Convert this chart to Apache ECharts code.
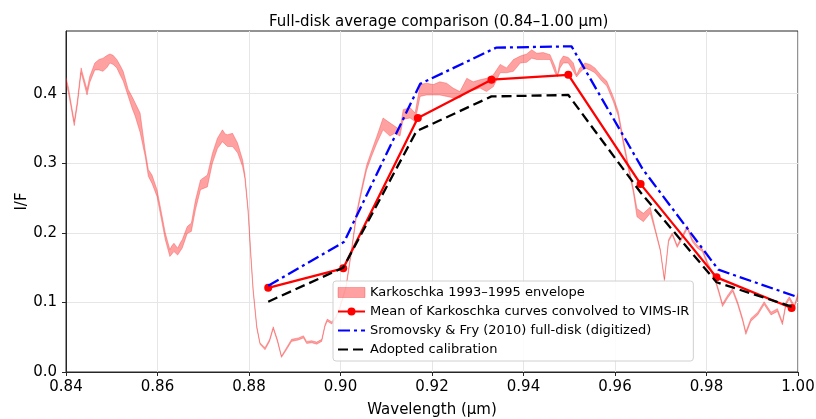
<!DOCTYPE html>
<html>
<head>
<meta charset="utf-8">
<script src="https://cdn.jsdelivr.net/npm/echarts@6/dist/echarts.min.js"></script>
<style>
  html, body { margin: 0; padding: 0; background: #fff; }
  #chart { width: 816px; height: 419px; }
</style>
</head>
<body>
<div id="chart"></div>
<script>
// Karkoschka envelope
const envWl = [
  0.8400, 0.8405, 0.8410, 0.8418, 0.8425, 0.8433, 0.8438, 0.8446, 0.8452, 0.8463,
  0.8472, 0.8481, 0.8490, 0.8496, 0.8503, 0.8511, 0.8518, 0.8525, 0.8536, 0.8545,
  0.8551, 0.8562, 0.8573, 0.8580, 0.8588, 0.8599, 0.8606, 0.8617, 0.8627, 0.8632,
  0.8636, 0.8644, 0.8650, 0.8654, 0.8665, 0.8674, 0.8683, 0.8694, 0.8709, 0.8720,
  0.8731, 0.8742, 0.8748, 0.8753, 0.8764, 0.8775, 0.8786, 0.8791, 0.8798, 0.8804,
  0.8809, 0.8817, 0.8824, 0.8835, 0.8845, 0.8853, 0.8862, 0.8871, 0.8882, 0.8893,
  0.8908, 0.8919, 0.8926, 0.8937, 0.8948, 0.8959, 0.8966, 0.8971, 0.8981, 0.8990,
  0.8999, 0.9012, 0.9024, 0.9035, 0.9046, 0.9057, 0.9068, 0.9079, 0.9093, 0.9108,
  0.9119, 0.9130, 0.9137, 0.9152, 0.9163, 0.9174, 0.9188, 0.9203, 0.9217, 0.9232,
  0.9246, 0.9261, 0.9276, 0.9290, 0.9305, 0.9319, 0.9334, 0.9349, 0.9363, 0.9378,
  0.9393, 0.9407, 0.9418, 0.9429, 0.9443, 0.9458, 0.9469, 0.9474, 0.9480, 0.9487,
  0.9498, 0.9509, 0.9516, 0.9523, 0.9534, 0.9545, 0.9556, 0.9571, 0.9582, 0.9596,
  0.9607, 0.9618, 0.9629, 0.9640, 0.9648, 0.9662, 0.9677, 0.9688, 0.9699, 0.9708,
  0.9717, 0.9725, 0.9736, 0.9747, 0.9758, 0.9769, 0.9780, 0.9791, 0.9802, 0.9817,
  0.9828, 0.9835, 0.9846, 0.9857, 0.9868, 0.9879, 0.9886, 0.9897, 0.9912, 0.9926,
  0.9941, 0.9955, 0.9966, 0.9974, 0.9981, 0.9992, 1.0000
];
const envUpper = [
  0.423, 0.410, 0.391, 0.360, 0.391, 0.437, 0.425, 0.406, 0.425, 0.444,
  0.449, 0.451, 0.455, 0.457, 0.455, 0.449, 0.441, 0.432, 0.406, 0.395,
  0.387, 0.372, 0.319, 0.291, 0.283, 0.262, 0.238, 0.200, 0.176, 0.182,
  0.185, 0.178, 0.186, 0.190, 0.209, 0.214, 0.247, 0.276, 0.283, 0.314,
  0.336, 0.348, 0.342, 0.341, 0.343, 0.329, 0.305, 0.284, 0.235, 0.170,
  0.120, 0.066, 0.042, 0.035, 0.047, 0.065, 0.047, 0.023, 0.035, 0.047,
  0.049, 0.052, 0.044, 0.045, 0.043, 0.047, 0.068, 0.076, 0.072, 0.080,
  0.095, 0.124, 0.176, 0.229, 0.264, 0.297, 0.318, 0.338, 0.365, 0.358,
  0.353, 0.348, 0.377, 0.380, 0.372, 0.413, 0.415, 0.413, 0.417, 0.415,
  0.408, 0.403, 0.422, 0.417, 0.420, 0.422, 0.427, 0.442, 0.437, 0.449,
  0.454, 0.457, 0.463, 0.458, 0.459, 0.456, 0.439, 0.427, 0.447, 0.454,
  0.452, 0.444, 0.427, 0.437, 0.444, 0.442, 0.437, 0.425, 0.418, 0.396,
  0.375, 0.335, 0.298, 0.264, 0.235, 0.228, 0.237, 0.206, 0.177, 0.134,
  0.190, 0.200, 0.182, 0.196, 0.210, 0.191, 0.182, 0.177, 0.158, 0.139,
  0.115, 0.098, 0.110, 0.120, 0.101, 0.077, 0.058, 0.077, 0.086, 0.101,
  0.086, 0.091, 0.072, 0.101, 0.108, 0.096, 0.113
];
const envLower = [
  0.415, 0.402, 0.384, 0.354, 0.384, 0.430, 0.418, 0.398, 0.416, 0.434,
  0.434, 0.432, 0.438, 0.444, 0.442, 0.437, 0.427, 0.418, 0.396, 0.378,
  0.368, 0.344, 0.310, 0.281, 0.271, 0.252, 0.228, 0.190, 0.166, 0.170,
  0.173, 0.168, 0.174, 0.178, 0.199, 0.202, 0.233, 0.262, 0.266, 0.300,
  0.321, 0.331, 0.327, 0.324, 0.324, 0.315, 0.295, 0.278, 0.230, 0.165,
  0.116, 0.063, 0.040, 0.032, 0.044, 0.062, 0.044, 0.021, 0.032, 0.044,
  0.046, 0.049, 0.041, 0.042, 0.040, 0.044, 0.065, 0.073, 0.069, 0.077,
  0.092, 0.120, 0.172, 0.224, 0.258, 0.290, 0.310, 0.328, 0.348, 0.339,
  0.343, 0.339, 0.363, 0.365, 0.360, 0.396, 0.398, 0.398, 0.398, 0.396,
  0.394, 0.394, 0.403, 0.405, 0.408, 0.403, 0.410, 0.430, 0.430, 0.432,
  0.444, 0.445, 0.451, 0.449, 0.449, 0.449, 0.430, 0.424, 0.437, 0.444,
  0.444, 0.432, 0.424, 0.430, 0.437, 0.434, 0.430, 0.418, 0.411, 0.389,
  0.368, 0.328, 0.292, 0.258, 0.223, 0.216, 0.228, 0.202, 0.174, 0.131,
  0.187, 0.197, 0.179, 0.192, 0.206, 0.187, 0.178, 0.173, 0.154, 0.135,
  0.111, 0.094, 0.106, 0.116, 0.097, 0.073, 0.054, 0.073, 0.082, 0.097,
  0.082, 0.087, 0.068, 0.097, 0.104, 0.092, 0.109
];

// mean of Karkoschka convolved to VIMS-IR
const meanWl = [0.8842, 0.9006, 0.9169, 0.9330, 0.9498, 0.9656, 0.9822, 0.9986];
const meanIF = [0.121, 0.149, 0.365, 0.420, 0.427, 0.270, 0.136, 0.092];

const sfWl = [0.8842, 0.9008, 0.9174, 0.9340, 0.9505, 0.9660, 0.9826, 0.9998];
const sfIF = [0.124, 0.187, 0.414, 0.466, 0.468, 0.292, 0.147, 0.108];

// adopted calibration
const adoptWl = [0.8842, 0.9006, 0.9166, 0.9330, 0.9498, 0.9656, 0.9822, 0.9986];
const adoptIF = [0.101, 0.150, 0.346, 0.396, 0.398, 0.258, 0.129, 0.094];

const yTicks = [0, 0.1, 0.2, 0.3, 0.4];

const ENV_NAME = 'Karkoschka 1993–1995 envelope';
const MEAN_NAME = 'Mean of Karkoschka curves convolved to VIMS-IR';
const SF_NAME = 'Sromovsky & Fry (2010) full-disk (digitized)';
const ADOPT_NAME = 'Adopted calibration';

const pairs = (xs, ys) => xs.map((x, i) => [x, ys[i]]);

const font = 'DejaVu Sans';
const chart = echarts.init(document.getElementById('chart'), null, { renderer: 'canvas' });

// envelope drawn as one polygon: upper edge forward, lower edge back
const renderEnvelope = (params, api) => {
  const pts = [];
  for (let i = 0; i < envWl.length; i++) pts.push(api.coord([envWl[i], envUpper[i]]));
  for (let i = envWl.length - 1; i >= 0; i--) pts.push(api.coord([envWl[i], envLower[i]]));
  const cs = params.coordSys;
  return {
    type: 'polygon',
    shape: { points: pts },
    clipPath: { type: 'rect', shape: { x: cs.x, y: cs.y, width: cs.width, height: cs.height } },
    style: {
      fill: 'rgba(255,0,0,0.37)',
      stroke: 'rgba(240,40,40,0.32)',
      lineWidth: 1,
      lineJoin: 'round',
    },
  };
};

chart.setOption({
  animation: false,
  backgroundColor: '#ffffff',
  textStyle: { fontFamily: font },
  title: {
    text: 'Full-disk average comparison (0.84–1.00 µm)',
    left: 264,
    top: 10,
    textStyle: { fontFamily: font, fontSize: 15, fontWeight: 'normal', color: '#000' },
  },
  grid: {
    left: 66,
    right: 18,
    top: 31,
    bottom: 47,
    outerBoundsMode: 'none',
    containLabel: false,
    show: true,
    borderColor: '#262626',
    borderWidth: 1,
    backgroundColor: 'transparent',
  },
  legend: {
    orient: 'vertical',
    left: 333,
    top: 281,
    padding: [4, 4, 4, 4],
    itemWidth: 27,
    itemHeight: 10,
    itemGap: 4,
    backgroundColor: 'rgba(255,255,255,0.85)',
    borderColor: '#d0d0d0',
    borderWidth: 1,
    borderRadius: 3,
    textStyle: { fontFamily: font, fontSize: 13, color: '#000', lineHeight: 15 },
    data: [
      {
        name: ENV_NAME,
        icon: 'rect',
        itemStyle: { color: 'rgba(255,0,0,0.37)', borderColor: 'rgba(240,40,40,0.32)', borderWidth: 1 },
      },
      MEAN_NAME,
      { name: SF_NAME, itemStyle: { opacity: 0 } },
      { name: ADOPT_NAME, itemStyle: { opacity: 0 } },
    ],
  },
  xAxis: {
    type: 'value',
    min: 0.84,
    max: 1.0,
    interval: 0.02,
    name: 'Wavelength (µm)',
    nameLocation: 'middle',
    nameGap: 31,
    nameMoveOverlap: false,
    nameTextStyle: { fontFamily: font, fontSize: 15, color: '#000' },
    axisLine: { show: true, lineStyle: { color: '#262626', width: 1 } },
    axisTick: { show: true, inside: false, length: 4, lineStyle: { color: '#262626' } },
    axisLabel: {
      fontFamily: font,
      fontSize: 15,
      color: '#000',
      margin: 8,
      formatter: (v) => v.toFixed(2),
    },
    splitLine: { show: true, lineStyle: { color: '#e6e6e6', width: 1 } },
  },
  yAxis: {
    type: 'value',
    min: 0,
    max: 0.49,
    interval: 0.1,
    name: 'I/F',
    nameLocation: 'middle',
    nameRotate: 90,
    nameGap: 36,
    nameMoveOverlap: false,
    nameTextStyle: { fontFamily: font, fontSize: 15, color: '#000' },
    axisLine: { show: true, lineStyle: { color: '#262626', width: 1 } },
    axisTick: { show: true, inside: false, length: 4, customValues: yTicks, lineStyle: { color: '#262626' } },
    axisLabel: {
      fontFamily: font,
      fontSize: 15,
      color: '#000',
      margin: 9,
      customValues: yTicks,
      formatter: (v) => v.toFixed(1),
    },
    splitLine: { show: true, lineStyle: { color: '#e6e6e6', width: 1 } },
  },
  series: [
    {
      name: ENV_NAME,
      type: 'custom',
      renderItem: renderEnvelope,
      data: [[envWl[0], envUpper[0]]],
      itemStyle: { color: 'rgba(255,0,0,0.37)' },
      silent: true,
      z: 1,
    },
    {
      name: MEAN_NAME,
      type: 'line',
      symbol: 'circle',
      symbolSize: 8,
      data: pairs(meanWl, meanIF),
      lineStyle: { color: '#ff0000', width: 2.3 },
      itemStyle: { color: '#ff0000' },
      z: 3,
    },
    {
      name: SF_NAME,
      type: 'line',
      symbol: 'none',
      data: pairs(sfWl, sfIF),
      lineStyle: { color: '#0000ff', width: 2.3, type: [12, 4, 3, 4] },
      itemStyle: { color: '#0000ff' },
      z: 4,
    },
    {
      name: ADOPT_NAME,
      type: 'line',
      symbol: 'none',
      data: pairs(adoptWl, adoptIF),
      lineStyle: { color: '#000000', width: 2.3, type: [10, 5] },
      itemStyle: { color: '#000000' },
      z: 5,
    },
  ],
});
</script>
</body>
</html>
